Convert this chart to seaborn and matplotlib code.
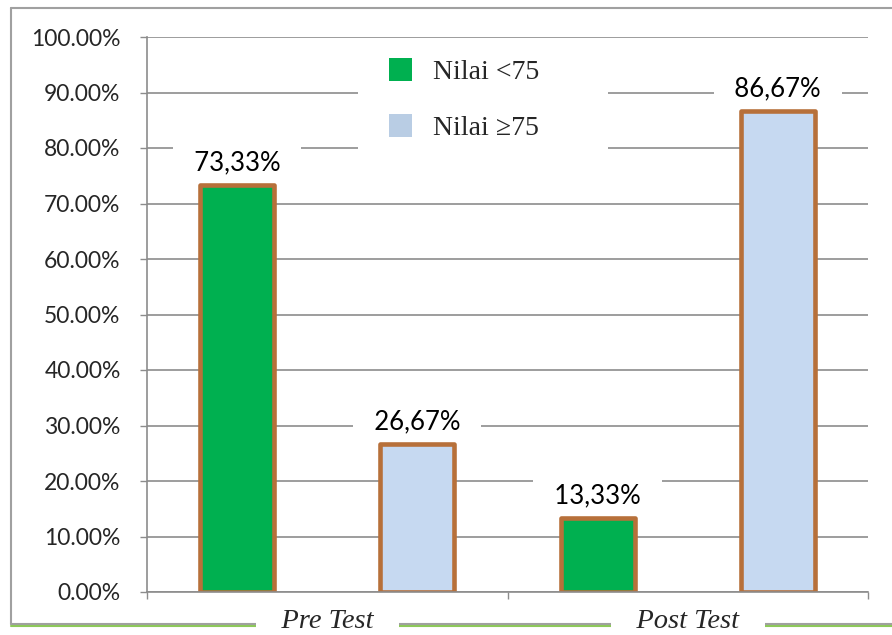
import pandas as pd
import matplotlib
matplotlib.use('Agg')
import matplotlib.pyplot as plt
import seaborn as sns
from matplotlib.patches import Patch, Rectangle
from matplotlib.lines import Line2D

# data
tests = ['Pre Test', 'Pre Test', 'Post Test', 'Post Test']
kategori = ['Nilai <75', 'Nilai \u226575', 'Nilai <75', 'Nilai \u226575']
persen = [73.33, 26.67, 13.33, 86.67]
y_ticks = [0, 10, 20, 30, 40, 50, 60, 70, 80, 90, 100]

GREEN = '#00B050'
BLUE = '#C6D9F1'
BLUE_LEG = '#B9CDE4'
BROWN = '#B7703A'
GRID = '#8C8C8C'

df = pd.DataFrame({'test': tests, 'kategori': kategori, 'persen': persen})

sns.set_theme(style='white')
plt.rcParams['font.family'] = ['Lato', 'DejaVu Sans']

fig = plt.figure(figsize=(8.92, 6.35), dpi=100)
fig.patch.set_facecolor('white')
ax = fig.add_axes([147 / 892, 1 - 592 / 635, 721 / 892, 555 / 635])

sns.barplot(data=df, x='test', y='persen', hue='kategori',
            palette=[GREEN, BLUE], saturation=1, width=1.0, gap=0.59,
            edgecolor=BROWN, linewidth=3.3, legend=False, ax=ax)
for bar in ax.patches:
    bar.set_joinstyle('round')

# data labels with comma decimals
for cont in ax.containers:
    vals = [b.get_height() for b in cont]
    labs = ['  ' + f'{v:.2f}%'.replace('.', ',') + '  ' for v in vals]
    ax.bar_label(cont, labels=labs, padding=7, fontsize=18.5, color='black',
                 bbox=dict(boxstyle='square,pad=0.3', fc='white', ec='none'))

ax.set_xlim(-0.5, 1.5)
ax.set_ylim(0, 100)
ax.set_yticks(y_ticks)
ax.set_yticklabels([f'{t:.2f}%' for t in y_ticks], fontsize=16.5)
ax.tick_params(axis='y', length=5, width=1, color=GRID, pad=14, left=True)
ax.yaxis.grid(True, color=GRID, linewidth=1.2)
ax.set_axisbelow(True)

ax.set_xticks([0, 1])
ax.set_xticklabels(['   Pre Test   ', '   Post Test   '],
                   family=['Liberation Serif', 'DejaVu Serif'],
                   style='italic', fontsize=20.5)
ax.tick_params(axis='x', length=0, pad=12)
for lbl in ax.get_xticklabels():
    lbl.set_bbox(dict(boxstyle='square,pad=0.15', fc='white', ec='none'))
ax.set_xticks([-0.5, 0.5, 1.5], minor=True)
ax.tick_params(axis='x', which='minor', length=5, width=1, color=GRID, bottom=True)

ax.set_xlabel('')
ax.set_ylabel('')
for s in ['top', 'right']:
    ax.spines[s].set_visible(False)
for s in ['left', 'bottom']:
    ax.spines[s].set_color(GRID)
    ax.spines[s].set_linewidth(1.2)

# legend with white box over the gridlines
ax.add_patch(Rectangle((0.2926, 0.778), 0.347, 0.207, transform=ax.transAxes,
                       fc='white', ec='none', zorder=2.5))
handles = [Patch(fc=GREEN, ec='none'), Patch(fc=BLUE_LEG, ec='none')]
ax.legend(handles, ['Nilai <75', 'Nilai \u226575'], loc='upper left',
          bbox_to_anchor=(0.3356, 0.962), frameon=False, borderpad=0, borderaxespad=0,
          handlelength=0.83, handleheight=0.9, handletextpad=0.75, labelspacing=1.05,
          prop={'family': ['Liberation Serif', 'DejaVu Serif'], 'size': 20})

# outer chart border
x0 = 11 / 892
yb = 1 - 624 / 635
yt = 1 - 8 / 635
fig.add_artist(Line2D([x0, x0], [yb, yt], color='#A0A0A0', lw=1.5, zorder=-1))
fig.add_artist(Line2D([x0, 1], [yt, yt], color='#A0A0A0', lw=1.5, zorder=-1))
fig.add_artist(Line2D([x0, 1], [yb, yb], color='#A0A0A0', lw=1.5, zorder=-1))
fig.add_artist(Line2D([x0, 1], [yb - 2 / 635, yb - 2 / 635], color='#8DC85A', lw=1.5, zorder=-1))

fig.savefig('out.png', dpi=100, facecolor='white')
